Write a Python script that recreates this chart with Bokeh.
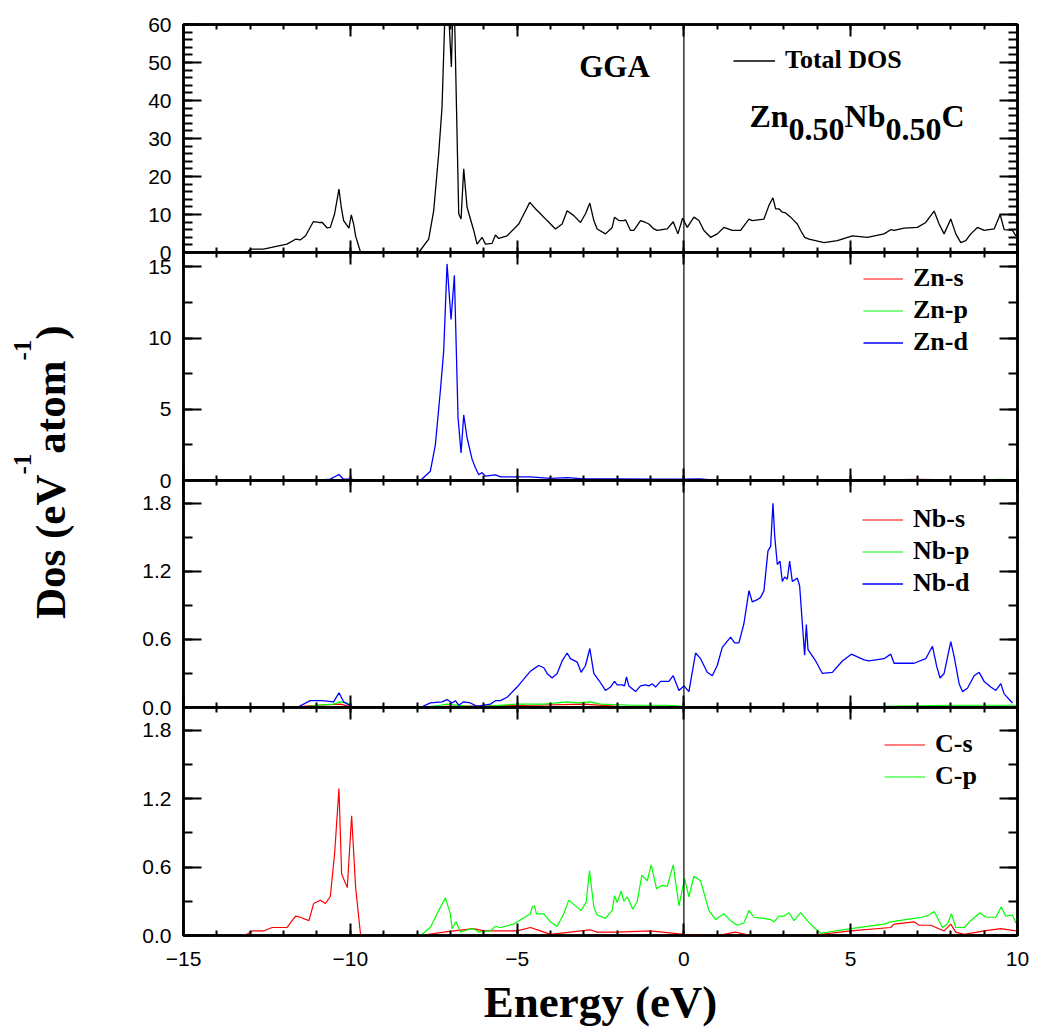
import numpy as np
from bokeh.plotting import figure
from bokeh.models import (Range1d, LinearAxis, SingleIntervalTicker, Span, Legend,
                          LegendItem, Label, CustomJSTickFormatter, NumeralTickFormatter)
from bokeh.layouts import row, column
from bokeh.embed import file_html
from bokeh.resources import INLINE
from bokeh.core.properties import value

# ---------------- data ----------------
x_ticks = [-15, -10, -5, 0, 5, 10]

total_E = [-13.1, -13.0, -12.6, -12.29, -11.9, -11.64, -11.5, -11.34, -11.11, -10.94, -10.84,
           -10.7, -10.6, -10.47, -10.34, -10.27, -10.2, -10.04, -9.97, -9.9, -9.84, -9.69,
           -7.95, -7.65, -7.5, -7.35, -7.25, -7.12, -6.97, -6.9, -6.75, -6.68, -6.6, -6.5,
           -6.3, -6.2, -6.05, -5.95, -5.75, -5.65, -5.55, -5.3, -4.95, -4.62, -4.45, -4.3,
           -4.1, -3.85, -3.65, -3.5, -3.3, -3.1, -2.95, -2.82, -2.7, -2.6, -2.35, -2.15,
           -2.08, -1.95, -1.8, -1.75, -1.6, -1.5, -1.3, -1.15, -1.05, -0.9, -0.8, -0.5,
           -0.32, -0.18, -0.04, 0.1, 0.3, 0.45, 0.6, 0.8, 1.0, 1.2, 1.45, 1.7, 1.95, 2.05,
           2.4, 2.55, 2.67, 2.75, 2.85, 2.95, 3.05, 3.2, 3.3, 3.4, 3.5, 3.62, 3.75, 4.2,
           4.6, 5.05, 5.5, 6.0, 6.2, 6.3, 6.6, 7.0, 7.25, 7.5, 7.65, 7.8, 8.0, 8.15, 8.3,
           8.45, 8.6, 8.8, 9.0, 9.3, 9.48, 9.6, 9.85, 9.95]
total_D = [0.0, 0.9, 0.9, 1.5, 2.2, 3.5, 3.3, 4.4, 8.1, 7.9, 7.9,
           6.5, 6.6, 10.2, 16.7, 11.9, 8.4, 6.4, 9.9, 7.5, 4.3, 0.0,
           0.0, 3.5, 11.0, 26.0, 38.3, 75.0, 48.8, 73.0, 10.2, 8.8, 22.0, 11.9,
           5.8, 2.2, 4.0, 2.2, 2.4, 4.6, 3.7, 4.4, 7.5, 13.2, 11.5, 10.2,
           8.4, 6.2, 7.5, 11.0, 9.7, 7.9, 10.2, 13.0, 8.4, 6.2, 4.9, 6.6,
           9.3, 8.4, 8.4, 8.6, 5.8, 5.8, 8.4, 7.9, 7.5, 6.2, 5.8, 6.2,
           8.1, 4.9, 9.0, 6.6, 9.3, 8.4, 5.8, 4.0, 4.9, 6.6, 5.8, 5.8, 8.8, 8.4,
           8.8, 12.4, 14.4, 11.5, 11.5, 10.6, 10.4, 9.3, 8.4, 7.5, 5.8, 4.0, 3.5, 2.6,
           3.1, 4.4, 4.0, 4.9, 6.0, 5.8, 6.4, 6.6, 7.9, 10.9, 7.5, 4.9, 8.8, 4.9, 2.6,
           3.1, 4.9, 6.6, 5.8, 6.2, 10.0, 6.0, 5.8, 4.4]

zn_d_E = [-11.04, -10.6, -10.34, -10.22, -9.97, -9.8, -7.9, -7.6, -7.45, -7.3, -7.2, -7.1,
          -6.98, -6.88, -6.77, -6.68, -6.6, -6.5, -6.35, -6.25, -6.15, -6.05, -5.95, -5.65,
          -5.5, -4.6, -4.0, -3.5, -3.0, -2.0, -1.0, 0.0, 0.5, 0.8, 1.5, 10.0]
zn_d_D = [0.0, 0.1, 0.42, 0.12, 0.1, 0.0, 0.0, 0.65, 2.5, 6.3, 9.1, 15.2,
          11.3, 14.4, 4.4, 1.94, 4.6, 3.0, 1.5, 0.9, 0.4, 0.55, 0.3, 0.4,
          0.25, 0.25, 0.15, 0.2, 0.12, 0.12, 0.1, 0.1, 0.12, 0.05, 0.0, 0.0]
zn_s_E = [-12.0, -10.3, -9.8, -7.5, -7.0, -6.5, -5.0, 0.0, 2.0, 4.0, 6.0, 6.5, 7.0, 7.5, 8.0, 9.0, 10.0]
zn_s_D = [0.0, 0.03, 0.0, 0.0, 0.06, 0.02, 0.01, 0.0, 0.03, 0.02, 0.04, 0.06, 0.08, 0.06, 0.05, 0.02, 0.02]
zn_p_E = [-12.0, -10.3, -9.8, -7.5, -7.0, -6.0, -4.0, 0.0, 5.0, 7.0, 7.5, 8.0, 9.0, 9.5, 10.0]
zn_p_D = [0.0, 0.02, 0.0, 0.0, 0.03, 0.02, 0.02, 0.0, 0.01, 0.03, 0.04, 0.06, 0.05, 0.08, 0.05]

nb_d_E = [-11.6, -11.2, -10.85, -10.5, -10.34, -10.2, -9.9, -7.9, -7.6, -7.25, -7.1, -6.95,
          -6.85, -6.75, -6.6, -6.4, -6.2, -6.0, -5.8, -5.65, -5.5, -5.3, -5.0, -4.6,
          -4.5, -4.35, -4.2, -4.1, -3.95, -3.8, -3.65, -3.5, -3.4, -3.2, -3.08, -2.95,
          -2.82, -2.7, -2.55, -2.35, -2.2, -2.08, -2.0, -1.85, -1.78, -1.72, -1.65, -1.45,
          -1.3, -1.15, -1.05, -0.95, -0.85, -0.7, -0.45, -0.32, -0.15, 0.0, 0.15, 0.35,
          0.5, 0.7, 0.85, 1.0, 1.15, 1.4, 1.52, 1.65, 1.8, 1.95, 2.05, 2.2, 2.3, 2.4,
          2.52, 2.6, 2.67, 2.72, 2.8, 2.88, 2.95, 3.02, 3.1, 3.17, 3.25, 3.4, 3.47, 3.55,
          3.62, 3.67, 3.72, 3.95, 4.15, 4.45, 4.75, 5.02, 5.4, 5.55, 6.0, 6.2, 6.3, 6.9,
          7.25, 7.45, 7.58, 7.68, 7.8, 8.0, 8.1, 8.25, 8.35, 8.5, 8.7, 8.85, 9.0, 9.2,
          9.35, 9.5, 9.6, 9.85]
nb_d_D = [0.0, 0.06, 0.06, 0.05, 0.13, 0.05, 0.0, 0.0, 0.04, 0.05, 0.07, 0.04,
          0.06, 0.02, 0.05, 0.04, 0.01, 0.02, 0.03, 0.06, 0.06, 0.09, 0.18, 0.32,
          0.34, 0.37, 0.35, 0.3, 0.26, 0.3, 0.41, 0.48, 0.43, 0.4, 0.31, 0.37,
          0.52, 0.3, 0.24, 0.15, 0.18, 0.23, 0.2, 0.2, 0.19, 0.27, 0.19, 0.14,
          0.19, 0.2, 0.19, 0.21, 0.18, 0.23, 0.23, 0.28, 0.15, 0.19, 0.14, 0.48,
          0.43, 0.31, 0.28, 0.37, 0.53, 0.62, 0.57, 0.57, 0.74, 1.03, 0.93, 0.95, 0.97, 1.03,
          1.38, 1.42, 1.8, 1.52, 1.26, 1.29, 1.11, 1.15, 1.13, 1.29, 1.11, 1.14, 1.07, 0.74,
          0.46, 0.73, 0.51, 0.41, 0.3, 0.31, 0.41, 0.47, 0.42, 0.41, 0.43, 0.47, 0.39, 0.39,
          0.43, 0.54, 0.36, 0.26, 0.3, 0.58, 0.45, 0.21, 0.14, 0.17, 0.28, 0.31, 0.23, 0.18,
          0.15, 0.21, 0.12, 0.04]
nb_p_E = [-11.5, -11.0, -10.5, -10.3, -10.1, -9.9, -7.9, -7.3, -7.1, -6.5, -6.0, -5.0, -4.6,
          -4.2, -3.5, -3.2, -2.8, -2.5, -1.5, -0.5, 0.0, 1.0, 3.0, 6.0, 8.0, 10.0]
nb_p_D = [0.0, 0.02, 0.03, 0.05, 0.04, 0.0, 0.0, 0.02, 0.03, 0.01, 0.01, 0.03, 0.03,
          0.03, 0.05, 0.04, 0.05, 0.03, 0.02, 0.02, 0.01, 0.0, 0.0, 0.01, 0.02, 0.02]
nb_s_E = [-12.0, -11.0, -10.3, -9.9, -4.5, -3.0, -2.0, 0.0, 1.5, 4.0, 10.0]
nb_s_D = [0.0, 0.02, 0.03, 0.0, 0.02, 0.03, 0.01, 0.0, 0.005, 0.0, 0.0]

c_s_E = [-13.1, -12.94, -12.6, -12.34, -11.9, -11.64, -11.5, -11.24, -11.1, -10.9, -10.75,
         -10.6, -10.47, -10.34, -10.26, -10.09, -9.96, -9.84, -9.69, -7.9, -7.2, -6.9,
         -6.3, -6.0, -5.0, -4.6, -4.3, -4.0, -2.82, -2.6, -2.0, -1.0, 0.0, 1.0, 1.55,
         2.0, 3.8, 5.0, 6.2, 6.3, 6.9, 7.05, 7.4, 7.8, 8.0, 8.15, 8.4, 9.0, 9.5, 9.95]
c_s_D = [0.01, 0.04, 0.04, 0.07, 0.07, 0.17, 0.16, 0.13, 0.28, 0.31, 0.28,
         0.34, 0.72, 1.29, 0.54, 0.42, 1.05, 0.42, 0.0, 0.0, 0.03, 0.04,
         0.06, 0.04, 0.04, 0.07, 0.04, 0.01, 0.05, 0.03, 0.03, 0.04, 0.01, 0.0, 0.03,
         0.0, 0.0, 0.04, 0.07, 0.1, 0.12, 0.09, 0.09, 0.04, 0.1, 0.03, 0.01, 0.04, 0.06, 0.04]
c_p_E = [-7.9, -7.6, -7.4, -7.15, -7.0, -6.95, -6.83, -6.7, -6.5, -6.3, -6.15, -5.8,
         -5.65, -5.5, -5.1, -4.6, -4.55, -4.48, -4.42, -4.2, -4.0, -3.8, -3.6, -3.45,
         -3.25, -3.08, -2.93, -2.83, -2.7, -2.6, -2.35, -2.15, -2.08, -2.0, -1.88, -1.8,
         -1.7, -1.53, -1.4, -1.26, -1.1, -0.98, -0.82, -0.65, -0.5, -0.32, -0.15, 0.02,
         0.15, 0.3, 0.5, 0.75, 0.95, 1.2, 1.4, 1.6, 1.8, 1.95, 2.1, 2.4, 2.6, 2.7,
         2.85, 3.0, 3.15, 3.3, 3.5, 3.7, 3.9, 4.1, 5.0, 6.0, 6.2, 6.9, 7.15, 7.35,
         7.5, 7.65, 7.75, 7.9, 8.02, 8.15, 8.4, 8.6, 8.87, 9.05, 9.35, 9.51, 9.65,
         9.85, 9.95]
c_p_D = [0.0, 0.07, 0.19, 0.33, 0.19, 0.06, 0.12, 0.03, 0.05, 0.06, 0.03, 0.04,
         0.08, 0.07, 0.1, 0.19, 0.25, 0.26, 0.19, 0.19, 0.12, 0.08, 0.19, 0.31,
         0.26, 0.22, 0.29, 0.57, 0.25, 0.18, 0.15, 0.22, 0.35, 0.29, 0.39, 0.3,
         0.34, 0.23, 0.3, 0.53, 0.48, 0.62, 0.41, 0.44, 0.43, 0.62, 0.26, 0.5,
         0.34, 0.52, 0.48, 0.22, 0.14, 0.19, 0.13, 0.09, 0.11, 0.22, 0.16, 0.15, 0.14, 0.12,
         0.17, 0.17, 0.2, 0.13, 0.2, 0.13, 0.07, 0.02, 0.06, 0.1, 0.12, 0.15, 0.16, 0.18,
         0.21, 0.13, 0.07, 0.1, 0.19, 0.07, 0.07, 0.13, 0.2, 0.16, 0.16, 0.25, 0.17,
         0.18, 0.11]

RED, GREEN, BLUE = "#ff0000", "#00ff00", "#0000ff"

# ---------------- layout geometry ----------------
LAB_W = 123
BORDER_L = 60
BORDER_R = 22
FRAME_W = 834
FRAME_HS = [228, 228, 227, 228]
TOP_B = 24
GAP_B = 12          # border above/below inner panels (overlapped)
BOT_B = 99
SERIF = "Liberation Serif"
SANS = "Liberation Sans"

x_range = Range1d(-15, 10)
y_ranges = [(0, 60), (0, 16), (0, 2.0), (0, 2.0)]
y_major = [10, 5, 0.6, 0.6]
y_minor_n = [5, 2, 2, 2]


def blank_fmt():
    return CustomJSTickFormatter(code="return ''")


def make_panel(i):
    last = (i == 3)
    p = figure(frame_width=FRAME_W, frame_height=FRAME_HS[i],
               x_range=x_range, y_range=Range1d(*y_ranges[i]),
               output_backend="svg", toolbar_location=None,
               x_axis_type=None, y_axis_type=None,
               min_border_left=BORDER_L, min_border_right=BORDER_R,
               min_border_top=TOP_B if i == 0 else GAP_B,
               min_border_bottom=BOT_B if last else GAP_B)
    if i > 0:
        p.margin = (-2 * GAP_B, 0, 0, 0)
    p.outline_line_color = "black"
    p.outline_line_width = 2.5
    p.xgrid.visible = False
    p.ygrid.visible = False
    p.background_fill_color = "white"
    p.border_fill_alpha = 0

    xt = SingleIntervalTicker(interval=5, num_minor_ticks=5)
    yt = SingleIntervalTicker(interval=y_major[i], num_minor_ticks=y_minor_n[i])

    def style(ax, major_len, minor_len):
        ax.axis_line_color = "black"
        ax.axis_line_width = 2.5
        ax.major_tick_in = major_len
        ax.major_tick_out = 0
        ax.minor_tick_in = minor_len
        ax.minor_tick_out = 0
        ax.major_tick_line_width = 2
        ax.minor_tick_line_width = 2
        ax.major_label_text_font = SANS
        ax.major_label_text_font_size = "21px"
        ax.major_label_text_color = "black"

    # bottom
    bx = LinearAxis(ticker=xt)
    style(bx, 12, 5)
    if last:
        bx.major_label_standoff = 16
        bx.axis_label = "Energy (eV)"
        bx.axis_label_text_font = SERIF
        bx.axis_label_text_font_style = "bold"
        bx.axis_label_text_font_size = "45px"
        bx.axis_label_standoff = 8
        bx.axis_label_text_color = "black"
    else:
        bx.formatter = blank_fmt()
        bx.major_label_text_font_size = "0px"
        bx.major_label_standoff = 0
    p.add_layout(bx, "below")
    # top
    tx = LinearAxis(ticker=xt, formatter=blank_fmt())
    style(tx, 12, 5)
    tx.major_label_text_font_size = "0px"
    tx.major_label_standoff = 0
    p.add_layout(tx, "above")
    # left
    ly = LinearAxis(ticker=yt)
    style(ly, 18, 9)
    ly.major_label_standoff = 12
    if i >= 2:
        ly.formatter = NumeralTickFormatter(format="0.0")
    p.add_layout(ly, "left")
    # right
    ry = LinearAxis(ticker=yt, formatter=blank_fmt())
    style(ry, 18, 9)
    ry.major_label_text_font_size = "0px"
    ry.major_label_standoff = 0
    p.add_layout(ry, "right")

    p.add_layout(Span(location=0, dimension="height", line_color="black", line_width=1.2))
    return p


def legend(items, loc, gw):
    return Legend(items=items, location=loc, orientation="vertical", padding=0, margin=0,
                  spacing=2, glyph_width=gw, glyph_height=29, label_height=29,
                  label_standoff=10, label_text_font=SERIF, label_text_font_style="bold",
                  label_text_font_size="26px", label_text_color="black",
                  border_line_alpha=0, background_fill_alpha=0)


panels = [make_panel(i) for i in range(4)]
p1, p2, p3, p4 = panels

# panel 1: total DOS
r_tot = p1.line(total_E, total_D, line_color="black", line_width=1.3)
p1.add_layout(legend([LegendItem(label="Total DOS", renderers=[r_tot])], (550, 177), 42))


def px_to_data(xpix, ypix):
    e = -15 + (xpix - (LAB_W + BORDER_L)) / FRAME_W * 25.0
    d = (TOP_B + FRAME_HS[0] - ypix) / FRAME_HS[0] * 60.0
    return e, d


gx, gy = px_to_data(614, 66)
p1.add_layout(Label(x=gx, y=gy, text="GGA", text_align="center", text_baseline="middle",
                    text_font=SERIF, text_font_style="bold", text_font_size="31px",
                    text_color="black"))

# compound formula Zn0.50Nb0.50C with lowered subscripts
FS = 32
em = {"Z": 0.667, "n": 0.556, "N": 0.722, "b": 0.556, "C": 0.722, "0": 0.5, ".": 0.25, "5": 0.5}
pieces = [("Zn", False), ("0.50", True), ("Nb", False), ("0.50", True), ("C", False)]
widths = [sum(em[c] for c in t) * FS for t, _ in pieces]
xpos = 856.5 - sum(widths) / 2
for (t, sub), w in zip(pieces, widths):
    ex, ey = px_to_data(xpos, 129 if sub else 115)
    p1.add_layout(Label(x=ex, y=ey, text=t, text_align="left", text_baseline="alphabetic",
                        text_font=SERIF, text_font_style="bold", text_font_size=f"{FS}px",
                        text_color="black"))
    xpos += w

# panel 2: Zn
r_zs = p2.line(zn_s_E, zn_s_D, line_color=RED, line_width=1.2)
r_zp = p2.line(zn_p_E, zn_p_D, line_color=GREEN, line_width=1.2)
r_zd = p2.line(zn_d_E, zn_d_D, line_color=BLUE, line_width=1.3)
p2.add_layout(legend([LegendItem(label="Zn-s", renderers=[r_zs]),
                      LegendItem(label="Zn-p", renderers=[r_zp]),
                      LegendItem(label="Zn-d", renderers=[r_zd])], (680, 123), 40))

# panel 3: Nb
r_ns = p3.line(nb_s_E, nb_s_D, line_color=RED, line_width=1.2)
r_np = p3.line(nb_p_E, nb_p_D, line_color=GREEN, line_width=1.2)
r_nd = p3.line(nb_d_E, nb_d_D, line_color=BLUE, line_width=1.3)
p3.add_layout(legend([LegendItem(label="Nb-s", renderers=[r_ns]),
                      LegendItem(label="Nb-p", renderers=[r_np]),
                      LegendItem(label="Nb-d", renderers=[r_nd])], (679, 109), 41))

# panel 4: C
r_cs = p4.line(c_s_E, c_s_D, line_color=RED, line_width=1.2)
r_cp = p4.line(c_p_E, c_p_D, line_color=GREEN, line_width=1.2)
p4.add_layout(legend([LegendItem(label="C-s", renderers=[r_cs]),
                      LegendItem(label="C-p", renderers=[r_cp])], (701, 144), 41))

# ---------------- left y-axis title ----------------
TOTAL_H = TOP_B + sum(FRAME_HS) + BOT_B
lab = figure(width=LAB_W, height=TOTAL_H, x_range=Range1d(0, LAB_W), y_range=Range1d(0, TOTAL_H),
             output_backend="svg", toolbar_location=None, x_axis_type=None, y_axis_type=None,
             min_border=0)
lab.outline_line_color = None
lab.xgrid.visible = False
lab.ygrid.visible = False

MAIN, SUP = 43, 25
em2 = {"D": 0.722, "o": 0.5, "s": 0.389, " ": 0.25, "(": 0.333, "e": 0.444, "V": 0.722,
       "a": 0.5, "t": 0.333, "m": 0.833, ")": 0.333, "-": 0.333, "1": 0.5}
ylab_parts = [("Dos (eV", False), ("-1", True), ("atom", False), ("-1", True), (")", False)]
lens = [sum(em2[c] for c in t) * (SUP if s else MAIN) for t, s in ylab_parts]
ystart = 471.7 + sum(lens) / 2  # pixel from top (bottom end of rotated text)
for (t, s), L in zip(ylab_parts, lens):
    lab.text(x=[22 if s else 50], y=[TOTAL_H - ystart], text=[t], angle=np.pi / 2,
             text_font=value(SERIF), text_font_style="bold",
             text_font_size=f"{SUP if s else MAIN}px", text_align="left",
             text_baseline="alphabetic", text_color="black")
    ystart -= L

layout = row(lab, column(*panels, spacing=0), spacing=0)
open("out.html", "w").write(file_html(layout, INLINE))
